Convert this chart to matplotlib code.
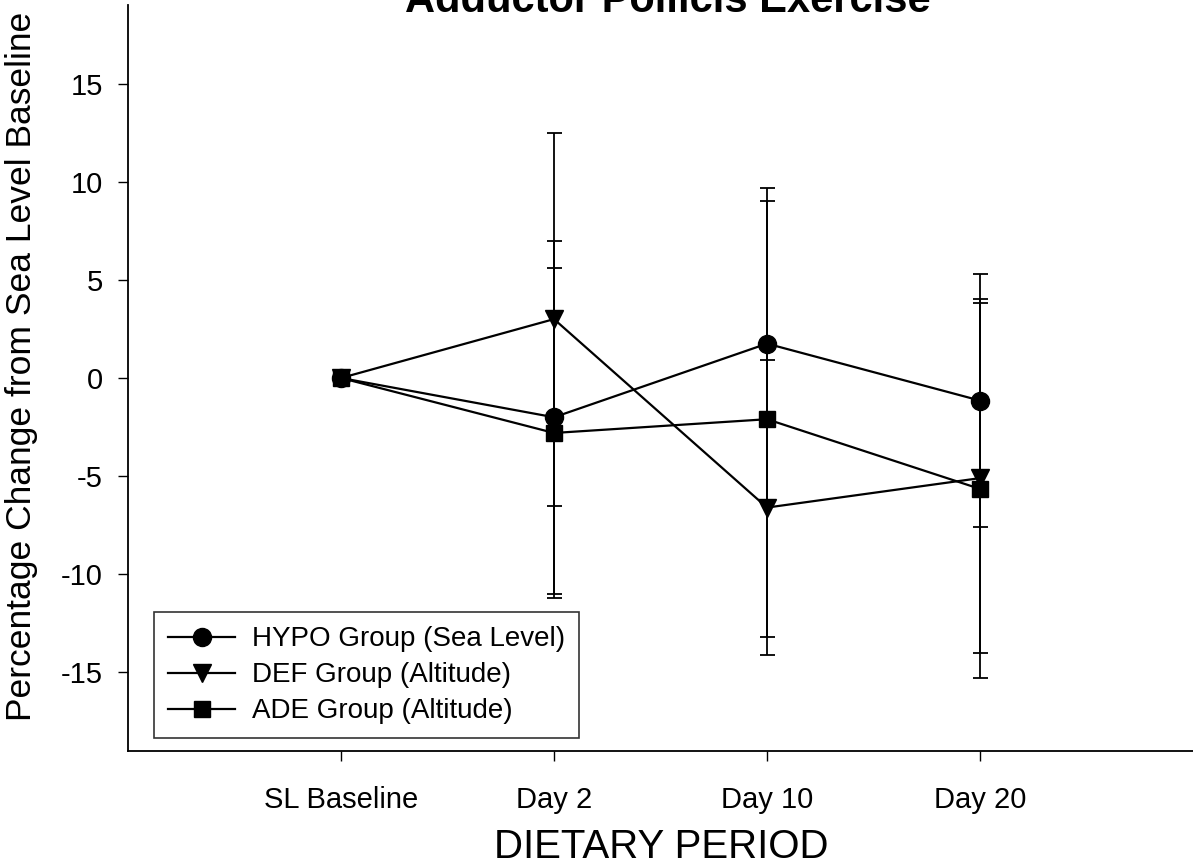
import numpy as np
import matplotlib
matplotlib.use("Agg")
from matplotlib import pyplot as plt
from matplotlib.lines import Line2D

plt.rcParams['font.family'] = ['Liberation Sans', 'DejaVu Sans']
plt.rcParams['axes.unicode_minus'] = False

# dietary periods and group means / standard errors (% change from SL baseline)
periods = ["SL Baseline", "Day 2", "Day 10", "Day 20"]
hypo_mean = [0.0, -2.0, 1.75, -1.15]
hypo_err = [0.0, 9.0, 7.95, 6.45]
def_mean = [0.0, 3.0, -6.6, -5.1]
def_err = [0.0, 9.5, 7.5, 8.9]
ade_mean = [0.0, -2.8, -2.1, -5.65]
ade_err = [0.0, 8.4, 11.1, 9.65]

x = np.arange(len(periods))

fig = plt.figure(figsize=(11.93, 8.65), dpi=100)
ax = fig.add_axes([128/1193, 1 - 751/865, 1 - 128/1193, (751 - 5)/865])

style = dict(color="black", linewidth=1.6, elinewidth=1.3, capsize=5.4,
             capthick=1.3, markeredgecolor="black", markerfacecolor="black")

groups = [
    ("HYPO Group (Sea Level)", hypo_mean, hypo_err, "o", 13),
    ("DEF Group (Altitude)", def_mean, def_err, "v", 13),
    ("ADE Group (Altitude)", ade_mean, ade_err, "s", 11),
]
handles = []
for label, mean, err, mk, ms in groups:
    ax.errorbar(x, mean, yerr=err, marker=mk, markersize=ms, **style)
    handles.append(Line2D([], [], color="black", linewidth=1.6, marker=mk,
                          markersize=ms, label=label))

ax.set_xlim(-1, 4)
ax.set_ylim(-19, 19)
ax.set_xticks(x)
ax.set_xticklabels(periods)
ax.set_yticks([-15, -10, -5, 0, 5, 10, 15])

ax.spines["top"].set_visible(False)
ax.spines["right"].set_visible(False)
ax.spines["left"].set_linewidth(1.3)
ax.spines["bottom"].set_linewidth(1.3)
ax.tick_params(axis="y", direction="out", length=7, width=1, labelsize=21, pad=11)
ax.tick_params(axis="x", direction="out", length=7, width=1, labelsize=21, pad=18)

leg = ax.legend(handles=handles, loc="lower left", bbox_to_anchor=(0.017, 0.006),
                fontsize=20, frameon=True, fancybox=False, edgecolor="black",
                handlelength=2.4, borderpad=0.5, labelspacing=0.36,
                handletextpad=0.6, borderaxespad=0.3)
leg.get_frame().set_linewidth(1.2)

# labels drawn in figure coordinates
fig.text(22/1193, 1 - 366/865, "Percentage Change from Sea Level Baseline",
         rotation=90, ha="center", va="center", fontsize=25.5)
fig.text(661/1193, 1 - 858/865, "DIETARY PERIOD", ha="center", va="baseline",
         fontsize=29)
fig.text(668/1193, 1 - 12/865, "Adductor Pollicis Exercise", ha="center",
         va="baseline", fontsize=30, fontweight="bold")

fig.savefig("out.png", dpi=100)
